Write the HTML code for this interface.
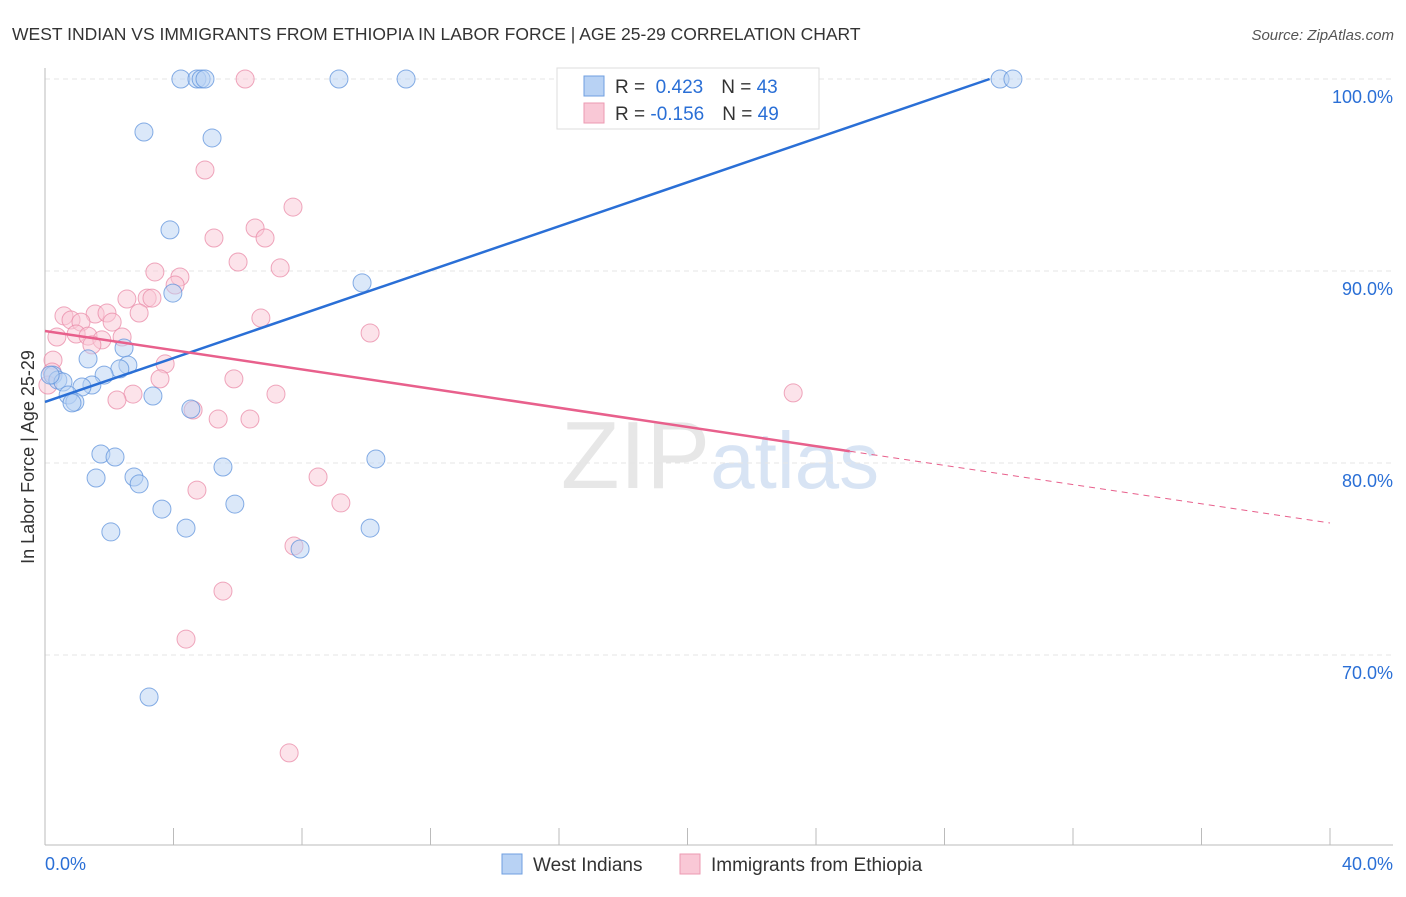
<!DOCTYPE html>
<html><head><meta charset="utf-8"><style>
body{margin:0;background:#fff;font-family:"Liberation Sans",sans-serif;}
svg text{font-family:"Liberation Sans",sans-serif;}
</style></head><body>
<svg id="chart" width="1406" height="892" xmlns="http://www.w3.org/2000/svg">
<text x="12" y="40" font-size="17.5" fill="#333">WEST INDIAN VS IMMIGRANTS FROM ETHIOPIA IN LABOR FORCE | AGE 25-29 CORRELATION CHART</text>
<text x="1394" y="40" font-size="15" fill="#555" text-anchor="end" font-style="italic">Source: ZipAtlas.com</text>
<text x="720" y="488" font-size="96" text-anchor="middle" font-family="Liberation Serif" fill="#ddd" opacity="0.7">ZIP<tspan fill="#c8daf0" font-family="Liberation Sans" font-size="80">atlas</tspan></text>
<text transform="translate(34,457) rotate(-90)" font-size="18" fill="#333" text-anchor="middle">In Labor Force | Age 25-29</text>
<g id="grid"></g><g id="axes"></g><g id="pts"></g><g id="lines"></g>
<g>
<rect x="557" y="68" width="262" height="61" fill="#fff" stroke="#ddd"/>
<rect x="584" y="76" width="20" height="20" fill="#b8d2f4" stroke="#6f9fe0"/>
<rect x="584" y="103" width="20" height="20" fill="#f9c8d6" stroke="#ec9ab2"/>
<text x="615" y="93" font-size="19" fill="#333">R = <tspan fill="#2a6fd6">&#160;0.423</tspan><tspan dx="18">N = </tspan><tspan fill="#2a6fd6">43</tspan></text>
<text x="615" y="120" font-size="19" fill="#333">R = <tspan fill="#2a6fd6">-0.156</tspan><tspan dx="18">N = </tspan><tspan fill="#2a6fd6">49</tspan></text>
</g>
<g>
<rect x="502" y="854" width="20" height="20" fill="#b8d2f4" stroke="#6f9fe0"/>
<text x="533" y="871" font-size="19" fill="#333">West Indians</text>
<rect x="680" y="854" width="20" height="20" fill="#f9c8d6" stroke="#ec9ab2"/>
<text x="711" y="871" font-size="19" fill="#333">Immigrants from Ethiopia</text>
</g>
</svg>
<script>
const yTicks=[100,90,80,70];
const yTickLabels=["100.0%","90.0%","80.0%","70.0%"];
const xTicks=[0,4,8,12,16,20,24,28,32,36,40];
const blueX=[4.23,4.73,4.86,4.98,9.15,11.24,29.73,30.13,3.08,5.20,3.89,9.87,3.98,2.46,1.34,2.58,2.33,1.84,0.25,0.40,0.56,1.46,1.15,0.72,3.36,0.93,0.84,4.54,1.74,2.18,10.30,5.54,1.59,2.77,2.93,5.91,3.64,4.39,10.12,2.05,7.94,3.24,0.16];
const blueY=[100,100,100,100,100,100,100,100,97.24,96.93,92.14,89.38,88.85,85.99,85.42,85.10,84.90,84.58,84.58,84.32,84.22,84.06,83.96,83.54,83.49,83.18,83.13,82.81,80.47,80.31,80.21,79.79,79.22,79.27,78.91,77.86,77.60,76.61,76.61,76.41,75.52,67.81,84.58];
const pinkX=[6.23,4.98,7.72,6.54,5.26,6.85,6.01,7.32,3.42,4.20,4.05,3.18,2.55,3.33,0.59,0.81,1.56,1.93,2.93,2.09,6.72,1.12,0.97,1.34,0.37,2.40,1.77,10.12,1.46,0.25,3.74,3.58,5.88,23.29,7.19,2.74,2.24,4.61,5.39,6.38,8.50,4.73,9.21,7.75,5.54,4.39,7.60,0.22,0.09];
const pinkY=[100,95.26,93.33,92.24,91.72,91.72,90.47,90.16,89.95,89.69,89.27,88.59,88.54,88.59,87.66,87.45,87.76,87.81,87.81,87.34,87.55,87.34,86.72,86.61,86.56,86.56,86.41,86.77,86.15,85.36,85.16,84.38,84.38,83.65,83.59,83.59,83.28,82.76,82.29,82.29,79.27,78.59,77.92,75.68,73.33,70.83,64.90,84.74,84.06];
const blueTrend=[83.18,0.572];
const pinkTrend=[86.875,-0.25];
const pinkSolidEnd=25.05;
const sx=v=>45+v*(1285/40);
const sy=v=>79+(100-v)*19.2;
const NS="http://www.w3.org/2000/svg";
function mk(t,a,p){const e=document.createElementNS(NS,t);for(const k in a)e.setAttribute(k,a[k]);p.appendChild(e);return e;}
const grid=document.getElementById('grid'),axes=document.getElementById('axes'),pts=document.getElementById('pts'),lines=document.getElementById('lines');
yTicks.forEach((v,i)=>{
 const l=mk('line',{x1:45,x2:1393,y1:sy(v),y2:sy(v),stroke:'#e6e6e6','stroke-dasharray':'5,4'},grid);
 
 
 const t=mk('text',{x:1393,y:sy(v)+24,'font-size':18,fill:'#2a6fd6','text-anchor':'end'},axes);
 t.textContent=yTickLabels[i];
 
 
});
const ya=mk('line',{x1:45,x2:45,y1:68,y2:845,stroke:'#bbb'},axes);


const xa=mk('line',{x1:45,x2:1393,y1:845,y2:845,stroke:'#bbb'},axes);


xTicks.forEach(v=>{const t=mk('line',{x1:sx(v),x2:sx(v),y1:828,y2:845,stroke:'#bbb'},axes);
 
 });
[[0,"0.0%","start",45],[40,"40.0%","end",1393]].forEach(a=>{const t=mk('text',{x:a[3],y:870,'font-size':18,fill:'#2a6fd6','text-anchor':a[2]},axes);t.textContent=a[1];
 
 });
function dots(X,Y,fill,stroke,name){X.forEach((x,i)=>{const c=mk('circle',{cx:sx(x),cy:sy(Y[i]),r:9,fill:fill,'fill-opacity':0.5,stroke:stroke,'stroke-opacity':0.75,'stroke-width':1},pts);
 
 });}
dots(pinkX,pinkY,'#f9c8d6','#e98aa7','ethiopia-point');
dots(blueX,blueY,'#b8d2f4','#5f93dc','west-indian-point');
const bEnd=(100-blueTrend[0])/blueTrend[1];
const bl=mk('line',{x1:sx(0),y1:sy(blueTrend[0]),x2:sx(bEnd),y2:sy(100),stroke:'#2a6fd6','stroke-width':2.5},lines);


const pl=mk('line',{x1:sx(0),y1:sy(pinkTrend[0]),x2:sx(pinkSolidEnd),y2:sy(pinkTrend[0]+pinkTrend[1]*pinkSolidEnd),stroke:'#e8608c','stroke-width':2.5},lines);


const pd=mk('line',{x1:sx(pinkSolidEnd),y1:sy(pinkTrend[0]+pinkTrend[1]*pinkSolidEnd),x2:sx(40),y2:sy(pinkTrend[0]+pinkTrend[1]*40),stroke:'#e8608c','stroke-width':1,'stroke-dasharray':'6,5'},lines);


</script>
</body></html>
